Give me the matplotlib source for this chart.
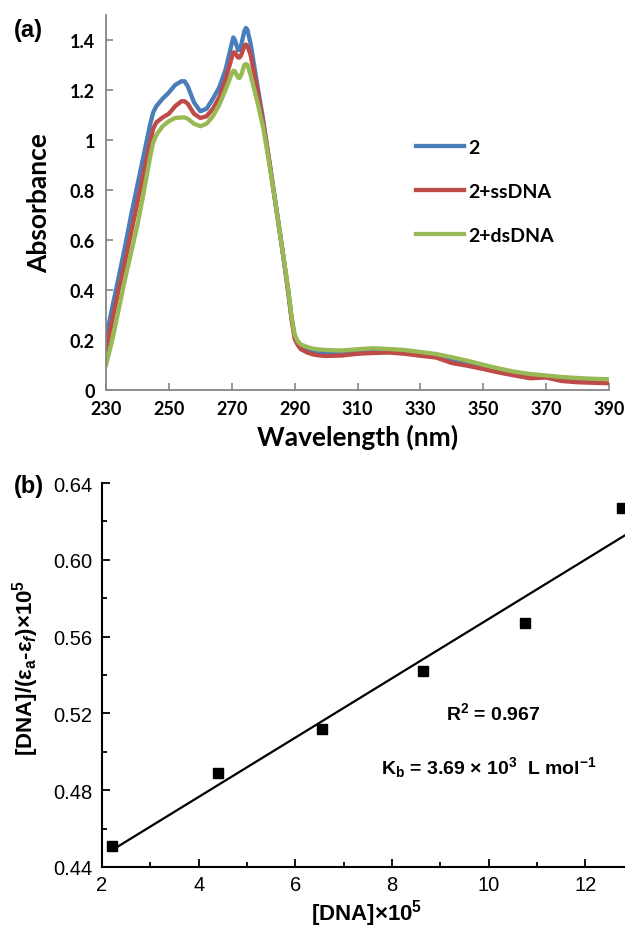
import numpy as np
import matplotlib
matplotlib.use("Agg")
import matplotlib.pyplot as plt
from matplotlib.ticker import MultipleLocator, FuncFormatter, FormatStrFormatter

# ---- dados do painel (a): espectros UV-Vis ----
wavelength = [230, 232, 234, 236, 238, 240, 242, 244,
              245, 246, 248, 250, 252, 254, 255, 256, 258, 260,
              262, 264, 266, 268, 270, 270.5, 271, 272, 272.5, 273,
              274, 274.5, 275, 276, 278, 280, 282, 284, 286, 288,
              289, 290, 291, 292, 294, 296, 298, 300,
              305, 310, 315, 320, 325, 330, 335, 340, 345, 350,
              355, 360, 365, 370, 375, 380, 385, 390]

abs_2 = [0.21, 0.33, 0.45, 0.57, 0.70, 0.82, 0.94, 1.06,
         1.11, 1.135, 1.165, 1.19, 1.22, 1.235, 1.235, 1.215, 1.15, 1.115,
         1.125, 1.165, 1.21, 1.28, 1.385, 1.41, 1.40, 1.36, 1.36, 1.38,
         1.435, 1.448, 1.44, 1.385, 1.23, 1.08, 0.91, 0.74, 0.57, 0.39,
         0.29, 0.215, 0.19, 0.175, 0.163, 0.155, 0.150, 0.148,
         0.147, 0.152, 0.155, 0.155, 0.152, 0.145, 0.138, 0.122, 0.107, 0.092,
         0.078, 0.066, 0.056, 0.053, 0.045, 0.040, 0.037, 0.035]

abs_ss = [0.16, 0.28, 0.40, 0.51, 0.63, 0.75, 0.87, 0.99,
          1.045, 1.07, 1.09, 1.105, 1.135, 1.155, 1.155, 1.145, 1.105, 1.088,
          1.095, 1.125, 1.17, 1.24, 1.33, 1.35, 1.35, 1.33, 1.33, 1.34,
          1.375, 1.382, 1.375, 1.34, 1.21, 1.07, 0.91, 0.74, 0.57, 0.39,
          0.285, 0.205, 0.18, 0.163, 0.15, 0.142, 0.138, 0.136,
          0.138, 0.145, 0.148, 0.150, 0.145, 0.137, 0.130, 0.108, 0.097, 0.084,
          0.070, 0.058, 0.047, 0.050, 0.036, 0.031, 0.029, 0.027]

abs_ds = [0.10, 0.20, 0.32, 0.44, 0.55, 0.66, 0.79, 0.93,
          0.99, 1.02, 1.055, 1.075, 1.088, 1.09, 1.09, 1.085, 1.065, 1.055,
          1.065, 1.095, 1.14, 1.20, 1.265, 1.277, 1.275, 1.25, 1.248, 1.26,
          1.30, 1.304, 1.30, 1.26, 1.16, 1.05, 0.90, 0.74, 0.57, 0.40,
          0.295, 0.222, 0.195, 0.182, 0.172, 0.165, 0.162, 0.160,
          0.158, 0.163, 0.167, 0.164, 0.160, 0.152, 0.144, 0.131, 0.117, 0.101,
          0.086, 0.073, 0.064, 0.058, 0.052, 0.048, 0.045, 0.043]

series_labels = ["2", "2+ssDNA", "2+dsDNA"]
series_colors = ["#4A7EBB", "#BE4B48", "#98B954"]

# ---- dados do painel (b): ajuste linear ----
dna = [2.2, 4.4, 6.55, 8.65, 10.75, 12.75]
ratio = [0.451, 0.489, 0.512, 0.542, 0.567, 0.627]
r2_label = r"R$^\mathbf{2}$ = 0.967"
kb_label = r"K$_\mathbf{b}$ = 3.69 × 10$^\mathbf{3}$  L mol$^\mathbf{-1}$"

plt.rcParams["mathtext.fontset"] = "custom"
plt.rcParams["mathtext.rm"] = "Liberation Sans"
plt.rcParams["mathtext.bf"] = "Liberation Sans:bold"
plt.rcParams["mathtext.it"] = "Liberation Sans:italic:bold"

fig = plt.figure(figsize=(6.25, 9.29), dpi=100)

# ================= painel (a) =================
fa = ["Lato", "DejaVu Sans"]
gray = "#868686"
ax1 = fig.add_axes([0.1696, 0.5791, 0.8048, 0.4037])
for y, lab, c in zip([abs_2, abs_ss, abs_ds], series_labels, series_colors):
    ax1.plot(wavelength, y, color=c, lw=3.1, label=lab, solid_joinstyle="round")
ax1.set_xlim(230, 390)
ax1.set_ylim(0, 1.5)
ax1.set_xticks(np.arange(230, 391, 20))
ax1.set_yticks(np.arange(0, 1.41, 0.2))
ax1.yaxis.set_major_formatter(FuncFormatter(lambda v, p: "%g" % round(v, 1)))
for s in ["top", "right"]:
    ax1.spines[s].set_visible(False)
for s in ["left", "bottom"]:
    ax1.spines[s].set_color(gray)
    ax1.spines[s].set_linewidth(1.3)
ax1.tick_params(axis="both", direction="in", color=gray, width=1.2, length=5)
ax1.tick_params(axis="y", pad=8)
ax1.tick_params(axis="x", pad=7)
for t in ax1.get_xticklabels() + ax1.get_yticklabels():
    t.set_fontfamily(fa)
    t.set_fontweight("bold")
    t.set_fontsize(13)
ax1.set_ylabel("Absorbance", fontfamily=fa, fontweight="bold", fontsize=19)
ax1.yaxis.set_label_coords(-0.133, 0.5)
ax1.set_xlabel("Wavelength (nm)", fontfamily=fa, fontweight="bold", fontsize=19)
ax1.xaxis.set_label_coords(0.5, -0.123)
ax1.xaxis.label.set_va("center")
ax1.yaxis.label.set_va("center")
leg = ax1.legend(loc="upper left", bbox_to_anchor=(0.616, 0.67), frameon=False,
                 borderpad=0, borderaxespad=0, handlelength=2.5, handletextpad=0.2,
                 labelspacing=1.4, prop={"family": fa, "weight": "bold", "size": 14})
fig.text(0.045, 0.967, "(a)", fontfamily=["Liberation Sans"], fontweight="bold",
         fontsize=17, ha="center", va="center")

# ================= painel (b) =================
fb = ["Liberation Sans", "DejaVu Sans"]
ax2 = fig.add_axes([0.1632, 0.0657, 0.8368, 0.4133])
ax2.plot(dna, ratio, "s", color="black", ms=6.5)
slope, intercept = np.polyfit(dna, ratio, 1)
xs = np.array([dna[0], 13.0])
ax2.plot(xs, slope * xs + intercept, color="black", lw=1.6)
ax2.set_xlim(2, 12.82)
ax2.set_ylim(0.44, 0.64)
ax2.xaxis.set_major_locator(MultipleLocator(2))
ax2.xaxis.set_minor_locator(MultipleLocator(1))
ax2.yaxis.set_major_locator(MultipleLocator(0.04))
ax2.yaxis.set_minor_locator(MultipleLocator(0.02))
ax2.yaxis.set_major_formatter(FormatStrFormatter("%.2f"))
for s in ["top", "right"]:
    ax2.spines[s].set_visible(False)
for s in ["left", "bottom"]:
    ax2.spines[s].set_linewidth(1.5)
ax2.tick_params(which="major", direction="in", length=5.5, width=1.3)
ax2.tick_params(which="minor", direction="in", length=3.5, width=1.3)
ax2.tick_params(axis="y", which="major", pad=7)
ax2.tick_params(axis="x", which="major", pad=6)
for t in ax2.get_xticklabels() + ax2.get_yticklabels():
    t.set_fontfamily(fb)
    t.set_fontsize(14.5)
ax2.set_xlabel(r"[DNA]×10$^\mathbf{5}$", fontfamily=fb, fontweight="bold", fontsize=16)
ax2.xaxis.set_label_coords(0.505, -0.118)
ax2.xaxis.label.set_va("center")
ax2.set_ylabel(r"[DNA]/(ε$_\mathbf{a}$-ε$_\mathit{f}$)×10$^\mathbf{5}$",
               fontfamily=fb, fontweight="bold", fontsize=16)
ax2.yaxis.set_label_coords(-0.147, 0.52)
ax2.yaxis.label.set_va("center")
ax2.text(10.1, 0.5205, r2_label, fontfamily=fb, fontweight="bold", fontsize=14,
         ha="center", va="center")
ax2.text(10.0, 0.4925, kb_label, fontfamily=fb, fontweight="bold", fontsize=14,
         ha="center", va="center")
fig.text(0.046, 0.476, "(b)", fontfamily=fb, fontweight="bold", fontsize=17,
         ha="center", va="center")

fig.savefig("out.png", dpi=100)
